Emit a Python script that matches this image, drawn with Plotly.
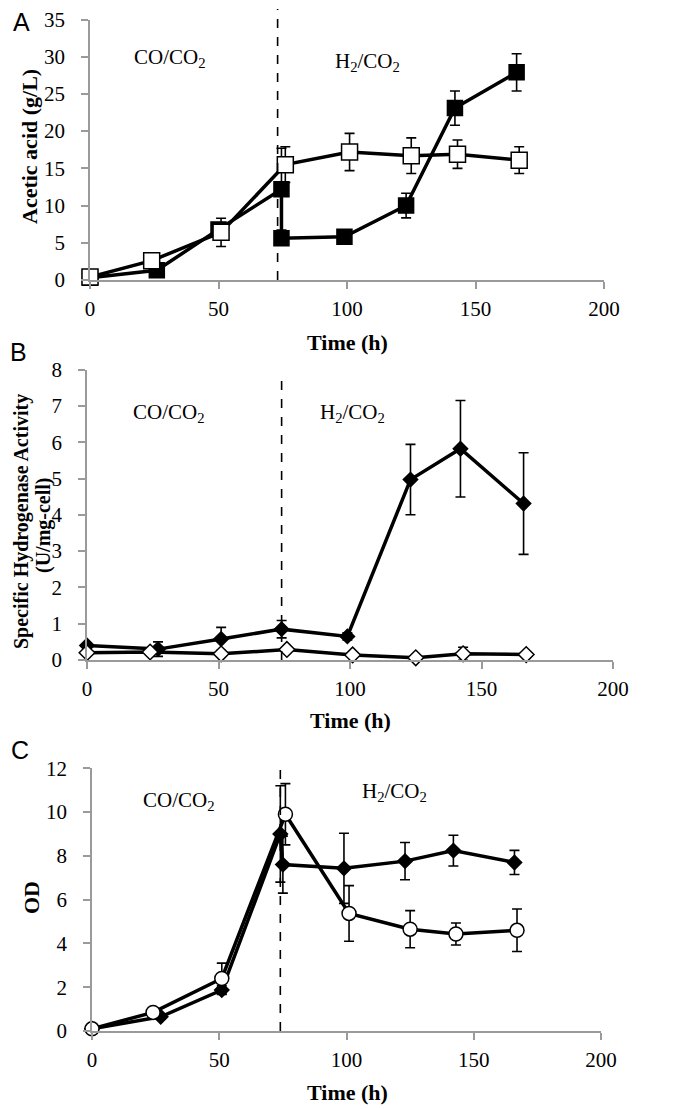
import plotly.graph_objects as go

# ---------------- Data ----------------
a_filled_t = [0, 26, 50, 74.5, 74.5, 99, 123, 142, 166]
a_filled_y = [0.3, 1.3, 6.8, 12.2, 5.6, 5.8, 10.0, 23.1, 27.9]
a_filled_e = [0.1, 0.3, 0.8, 5.5, 0.5, 0.6, 1.65, 2.3, 2.5]
a_open_t = [0, 24, 51, 76, 101, 125, 143, 167]
a_open_y = [0.4, 2.6, 6.4, 15.5, 17.2, 16.7, 16.9, 16.1]
a_open_e = [0.1, 0.3, 1.9, 2.4, 2.5, 2.4, 1.9, 1.8]

b_filled_t = [0, 27, 51, 74, 99, 123, 142, 166]
b_filled_y = [0.4, 0.3, 0.58, 0.85, 0.65, 4.97, 5.82, 4.31]
b_filled_e = [0.05, 0.2, 0.32, 0.24, 0.1, 0.97, 1.33, 1.4]
b_open_t = [0, 24, 51, 76, 101, 125, 143, 167]
b_open_y = [0.2, 0.22, 0.17, 0.29, 0.14, 0.06, 0.17, 0.15]
b_open_e = [0.02, 0.02, 0.02, 0.05, 0.05, 0.02, 0.18, 0.02]

c_filled_t = [0, 27, 51, 74, 75, 99, 123, 142, 166]
c_filled_y = [0.1, 0.65, 1.87, 9.0, 7.6, 7.43, 7.76, 8.24, 7.7]
c_filled_e = [0.05, 0.1, 0.2, 2.2, 1.3, 1.6, 0.85, 0.7, 0.55]
c_open_t = [0, 24, 51, 76, 101, 125, 143, 167]
c_open_y = [0.1, 0.85, 2.4, 9.9, 5.37, 4.65, 4.43, 4.6]
c_open_e = [0.05, 0.1, 0.7, 1.4, 1.27, 0.85, 0.5, 0.97]

x_ticks = [0, 50, 100, 150, 200]
gas_switch_t = [73, 74, 74]

W, H = 677, 1109
OFF = 8  # page body margin offset
SERIF = "Liberation Serif, Times New Roman, serif"
SANS = "Liberation Sans, Arial, sans-serif"
AXC = "#9a9a9a"

def px_x(p):
    return (p - OFF) / W

def px_y(p):
    return 1 - (p - OFF) / H

fig = go.Figure()

def add_series(t, y, e, xa, ya, symbol, size, fill):
    fig.add_trace(go.Scatter(
        x=t, y=y, xaxis=xa, yaxis=ya, mode="lines+markers",
        line=dict(color="black", width=3.5),
        marker=dict(symbol=symbol, size=size, color=fill,
                    line=dict(color="black", width=1.5)),
        error_y=dict(type="data", array=e, color="black", thickness=1.6, width=5),
        showlegend=False, cliponaxis=False,
    ))

add_series(a_filled_t, a_filled_y, a_filled_e, "x", "y", "square", 15, "black")
add_series(a_open_t, a_open_y, a_open_e, "x", "y", "square", 16, "white")
add_series(b_filled_t, b_filled_y, b_filled_e, "x2", "y2", "diamond", 11, "black")
add_series(b_open_t, b_open_y, b_open_e, "x2", "y2", "diamond", 12, "white")
add_series(c_filled_t, c_filled_y, c_filled_e, "x3", "y3", "diamond", 11, "black")
add_series(c_open_t, c_open_y, c_open_e, "x3", "y3", "circle", 14, "white")

panels = [
    ((90, 604), 280, 19.5, 35, 5),
    ((87, 613), 660, 369.6, 8, 1),
    ((92, 601), 1031, 768.3, 12, 2),
]

layout = dict(
    width=W, height=H, autosize=False,
    margin=dict(l=0, r=0, t=0, b=0, pad=0, autoexpand=False),
    paper_bgcolor="white", plot_bgcolor="white",
    font=dict(family=SERIF, color="black", size=21),
)
for i, ((x0, x1), yb, yt, ymax, dt) in enumerate(panels):
    sfx = "" if i == 0 else str(i + 1)
    layout["xaxis" + sfx] = dict(
        domain=[px_x(x0), px_x(x1)], range=[0, 200], tickvals=x_ticks,
        showline=True, linecolor=AXC, linewidth=1.5, ticks="outside",
        ticklen=7, tickwidth=1.5, tickcolor=AXC, showgrid=False, zeroline=False,
        anchor="y" + sfx, tickfont=dict(family=SERIF, size=21, color="black"),
        ticklabelstandoff=2, automargin=False, ticklabeloverflow="allow",
    )
    layout["yaxis" + sfx] = dict(
        domain=[px_y(yb), px_y(yt)], range=[0, ymax], dtick=dt, tick0=0,
        showline=True, linecolor=AXC, linewidth=1.5, ticks="outside",
        ticklen=7, tickwidth=1.5, tickcolor=AXC, showgrid=False, zeroline=False,
        anchor="x" + sfx, tickfont=dict(family=SERIF, size=21, color="black"),
        ticklabelstandoff=12, automargin=False, ticklabeloverflow="allow",
    )
fig.update_layout(**layout)

fig.add_shape(type="line", xref="x", yref="paper", x0=gas_switch_t[0], x1=gas_switch_t[0],
              y0=px_y(280), y1=px_y(9), line=dict(color="black", width=1.6, dash="dash"))
fig.add_shape(type="line", xref="x2", yref="y2", x0=gas_switch_t[1], x1=gas_switch_t[1],
              y0=0, y1=7.7, line=dict(color="black", width=1.6, dash="dash"))
fig.add_shape(type="line", xref="x3", yref="y3", x0=gas_switch_t[2], x1=gas_switch_t[2],
              y0=0, y1=12, line=dict(color="black", width=1.6, dash="dash"))

ann = []
def gas(text, x, y, xr, yr):
    ann.append(dict(text=text, x=x, y=y, xref=xr, yref=yr, showarrow=False,
                    font=dict(family=SERIF, size=21, color="black")))

gas("CO/CO<sub>2</sub>", 31, 29.8, "x", "y")
gas("H<sub>2</sub>/CO<sub>2</sub>", 108, 29.3, "x", "y")
gas("CO/CO<sub>2</sub>", 31, 6.8, "x2", "y2")
gas("H<sub>2</sub>/CO<sub>2</sub>", 101, 6.8, "x2", "y2")
gas("CO/CO<sub>2</sub>", 34, 10.5, "x3", "y3")
gas("H<sub>2</sub>/CO<sub>2</sub>", 119, 10.9, "x3", "y3")

def paper_text(text, xp, yp, size, family, angle=0, bold=False):
    ann.append(dict(text=("<b>%s</b>" % text) if bold else text,
                    x=px_x(xp), y=px_y(yp), xref="paper", yref="paper",
                    showarrow=False, textangle=angle, xanchor="center", yanchor="middle",
                    font=dict(family=family, size=size, color="black")))

paper_text("A", 21, 22, 25, SANS)
paper_text("B", 19, 352, 25, SANS)
paper_text("C", 20, 750, 25, SANS)

paper_text("Acetic acid (g/L)", 30, 147, 22, SERIF, angle=-90, bold=True)
paper_text("Time (h)", 347, 342, 22, SERIF, bold=True)
paper_text("Specific Hydrogenase Activity", 21, 522, 20, SERIF, angle=-90, bold=True)
paper_text("(U/mg-cell)", 43, 525, 20, SERIF, angle=-90, bold=True)
paper_text("Time (h)", 350, 720, 22, SERIF, bold=True)
paper_text("OD", 31, 898, 22, SERIF, angle=-90, bold=True)
paper_text("Time (h)", 347, 1092, 22, SERIF, bold=True)

fig.update_layout(annotations=ann)
fig.write_html("out.html")
